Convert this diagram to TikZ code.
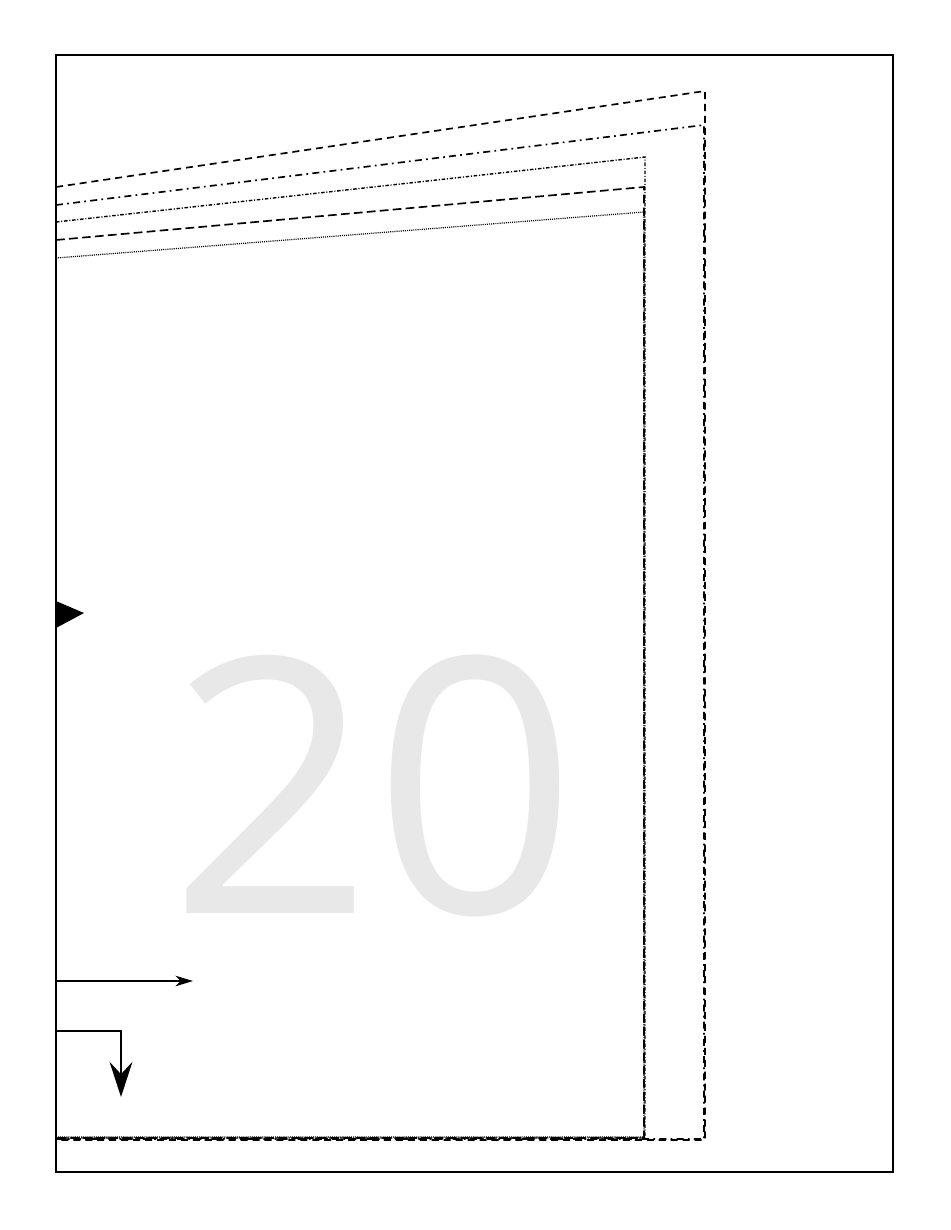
\documentclass[tikz,border=0pt]{standalone}
\usepackage{fontspec}
\newfontfamily\pagenumfont{Open Sans}
\usetikzlibrary{arrows.meta}
\begin{document}
\begin{tikzpicture}[x=0.02cm,y=-0.02cm,
  bleed/.style={line width=0.95pt, dash pattern=on 4pt off 2.8pt},
  trim/.style={line width=0.95pt, dash pattern=on 4pt off 2.4pt on 1pt off 2.4pt},
  safe/.style={line width=0.8pt, dash pattern=on 2pt off 1pt on 0.6pt off 1pt},
  margin/.style={line width=0.95pt, dash pattern=on 5pt off 2.4pt},
  column/.style={line width=0.7pt, dash pattern=on 0.6pt off 0.6pt}]
  \useasboundingbox (0,0) rectangle (950,1230);
  % page number
  \node[anchor=base, text=black!9, inner sep=0pt, font=\pagenumfont\fontsize{203}{203}\selectfont] (pagenum) at (373,913) {20};
  % guide lines
  \begin{scope}
    \clip (56,55) rectangle (893,1172);
    \draw[bleed]  (56,187) -- (705,91)  -- (705,1140) -- (56,1140);
    \draw[trim]   (56,205) -- (704,125) -- (704,1139) -- (56,1139);
    \draw[safe]   (56,222) -- (645,157) -- (645,1138) -- (56,1138);
    \draw[margin] (56,240) -- (644,187) -- (644,1138) -- (56,1138);
    \draw[column] (56,258) -- (644,212) -- (644,1137) -- (56,1137);
  \end{scope}
  % frame
  \draw[line width=1.1pt] (56,55) rectangle (893,1172);
  % markers
  \fill (56,601) -- (84,613) -- (56,628) -- cycle;
  \coordinate (flowstart) at (56,981);
  \coordinate (flowend) at (193,981);
  \draw[line width=0.9pt, -{Stealth[length=10pt,width=6pt,inset=3pt]}] (flowstart) -- (flowend);
  \coordinate (turnstart) at (56,1031);
  \coordinate (turncorner) at (121,1031);
  \coordinate (turnend) at (121,1097);
  \draw[line width=1.2pt, -{Stealth[length=20pt,width=13pt,inset=7pt]}] (turnstart) -- (turncorner) -- (turnend);
\end{tikzpicture}
\end{document}
